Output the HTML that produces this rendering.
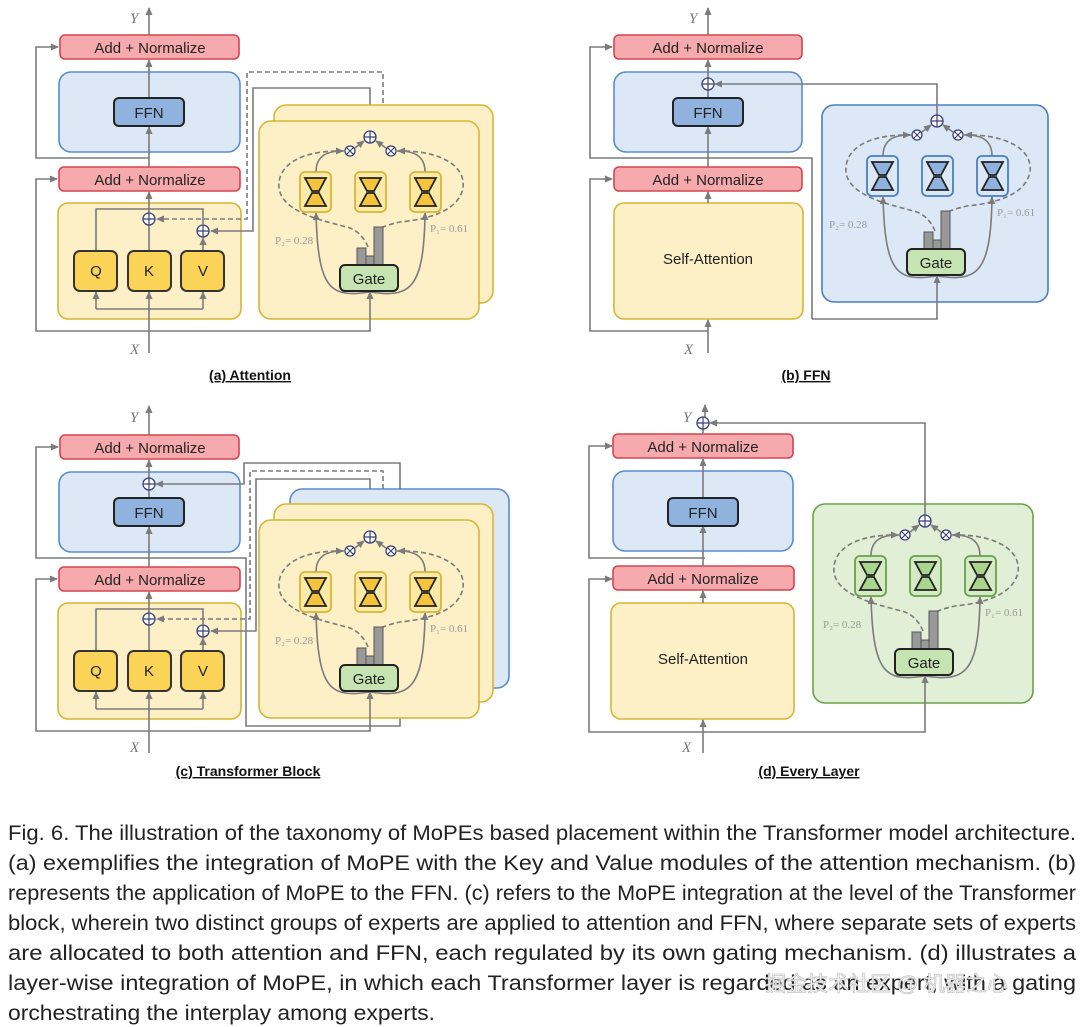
<!DOCTYPE html>
<html><head><meta charset="utf-8"><style>
html,body{margin:0;padding:0;background:#fff}
svg{display:block}
.an{fill:#f6aaad;stroke:#d4454f;stroke-width:1.6}
.bb{fill:#dde8f6;stroke:#5a8ccb;stroke-width:1.6}
.ffn{fill:#8fb2de;stroke:#222;stroke-width:2}
.yb{fill:#fdf0c6;stroke:#d6b637;stroke-width:1.6}
.qkv{fill:#fbd457;stroke:#333;stroke-width:2}
.ln{fill:none;stroke:#7b7b7b;stroke-width:1.6}
.ds{fill:none;stroke:#7b7b7b;stroke-width:1.6;stroke-dasharray:5 3}
.op{fill:#fff;stroke:#3a3f7a;stroke-width:1.3}
.gate{fill:#c6e4b1;stroke:#222;stroke-width:2}
.bar{fill:#999;stroke:#555;stroke-width:1}
.pl{font-family:"Liberation Serif",serif;font-size:11px;fill:#999}
.lab{font-family:"Liberation Sans",sans-serif;font-size:15px;fill:#222}
.xy{font-family:"Liberation Serif",serif;font-style:italic;font-size:15px;fill:#777}
.cap{font-family:"Liberation Sans",sans-serif;font-weight:bold;font-size:14px;fill:#111;text-decoration:underline}
.ya .eb{fill:#fde9a8;stroke:#d6b637}.ya .hg{fill:#f4c53c}
.bl .eb{fill:#dde8f6;stroke:#4a7fc0}.bl .hg{fill:#8fb2de}
.gr .eb{fill:#d5ebc6;stroke:#6aa14a}.gr .hg{fill:#a9d58c}
.eb{stroke-width:1.8}.hg{stroke:#222;stroke-width:1.8}
.txt{font-family:"Liberation Sans",sans-serif;font-size:21px;fill:#222}
</style></head><body>
<svg width="1080" height="1027" viewBox="0 0 1080 1027" xmlns="http://www.w3.org/2000/svg">
<defs>
<marker id="ar" markerWidth="8" markerHeight="8" refX="7" refY="4" orient="auto" markerUnits="userSpaceOnUse"><path d="M0,0.5 L8,4 L0,7.5 z" fill="#7b7b7b"/></marker>
</defs>

<!-- ============ PANEL A ============ -->
<g>
<line class="ln" x1="149" y1="35" x2="149" y2="8" marker-end="url(#ar)"/>
<text class="xy" x="130" y="23">Y</text>
<path class="ln" d="M149,158 H36 V47 H58" marker-end="url(#ar)"/>
<path class="ln" d="M149,331 H36 V179 H57" marker-end="url(#ar)"/>
<rect class="an" x="60" y="35" width="179" height="24" rx="5"/>
<text class="lab" x="150" y="53" text-anchor="middle">Add + Normalize</text>
<rect class="bb" x="59" y="72" width="181" height="80" rx="12"/>
<rect class="an" x="59" y="167" width="181" height="24" rx="5"/>
<text class="lab" x="150" y="185" text-anchor="middle">Add + Normalize</text>
<rect class="yb" x="58" y="203" width="183" height="116" rx="10"/>
<line class="ln" x1="149" y1="353" x2="149" y2="292" marker-end="url(#ar)"/>
<line class="ln" x1="149" y1="251" x2="149" y2="192" marker-end="url(#ar)"/>
<line class="ln" x1="149" y1="167" x2="149" y2="127" marker-end="url(#ar)"/>
<line class="ln" x1="149" y1="98" x2="149" y2="60" marker-end="url(#ar)"/>
<rect class="ffn" x="114" y="98" width="70" height="28" rx="5"/>
<text class="lab" x="149" y="118" text-anchor="middle">FFN</text>
<path class="ln" d="M96,251 V209 H203 V224"/>
<path class="ln" d="M96,309 H203"/>
<line class="ln" x1="96" y1="309" x2="96" y2="292" marker-end="url(#ar)"/>
<line class="ln" x1="203" y1="309" x2="203" y2="292" marker-end="url(#ar)"/>
<line class="ln" x1="203" y1="251" x2="203" y2="238" marker-end="url(#ar)"/>
<rect class="qkv" x="74" y="251" width="43" height="40" rx="6"/><text class="lab" x="96" y="276" text-anchor="middle">Q</text>
<rect class="qkv" x="128" y="251" width="43" height="40" rx="6"/><text class="lab" x="149" y="276" text-anchor="middle">K</text>
<rect class="qkv" x="181" y="251" width="43" height="40" rx="6"/><text class="lab" x="203" y="276" text-anchor="middle">V</text>
<path class="ds" d="M383,103 V72 H247 V219 H157" marker-end="url(#ar)"/>
<path class="ln" d="M370,131 V88 H253 V231 H211" marker-end="url(#ar)"/>
<circle class="op" cx="149" cy="219" r="6"/><path d="M143,219h12M149,213v12" stroke="#3a3f7a" stroke-width="1.2"/>
<circle class="op" cx="203" cy="231" r="6"/><path d="M197,231h12M203,225v12" stroke="#3a3f7a" stroke-width="1.2"/>
<rect class="yb" x="274" y="105" width="219" height="198" rx="12"/>
<rect class="yb" x="259" y="121" width="220" height="198" rx="12"/>
<path class="ln" d="M149,331 H370 V292" marker-end="url(#ar)"/>
<text class="cap" x="250" y="380" text-anchor="middle">(a) Attention</text>
</g>

<!-- ============ PANEL C ============ -->
<g>
<line class="ln" x1="149" y1="435" x2="149" y2="406" marker-end="url(#ar)"/>
<text class="xy" x="130" y="422">Y</text>
<path class="ln" d="M149,558 H36 V447 H58" marker-end="url(#ar)"/>
<path class="ln" d="M149,731 H36 V579 H57" marker-end="url(#ar)"/>
<rect class="an" x="60" y="435" width="179" height="24" rx="5"/>
<text class="lab" x="150" y="453" text-anchor="middle">Add + Normalize</text>
<rect class="bb" x="59" y="472" width="181" height="80" rx="12"/>
<rect class="an" x="59" y="567" width="181" height="24" rx="5"/>
<text class="lab" x="150" y="585" text-anchor="middle">Add + Normalize</text>
<rect class="yb" x="58" y="603" width="183" height="116" rx="10"/>
<line class="ln" x1="149" y1="753" x2="149" y2="692" marker-end="url(#ar)"/>
<line class="ln" x1="149" y1="651" x2="149" y2="592" marker-end="url(#ar)"/>
<line class="ln" x1="149" y1="567" x2="149" y2="527" marker-end="url(#ar)"/>
<line class="ln" x1="149" y1="498" x2="149" y2="460" marker-end="url(#ar)"/>
<rect class="ffn" x="114" y="498" width="70" height="28" rx="5"/>
<text class="lab" x="149" y="518" text-anchor="middle">FFN</text>
<path class="ln" d="M96,651 V609 H203 V624"/>
<path class="ln" d="M96,709 H203"/>
<line class="ln" x1="96" y1="709" x2="96" y2="692" marker-end="url(#ar)"/>
<line class="ln" x1="203" y1="709" x2="203" y2="692" marker-end="url(#ar)"/>
<line class="ln" x1="203" y1="651" x2="203" y2="638" marker-end="url(#ar)"/>
<rect class="qkv" x="74" y="651" width="43" height="40" rx="6"/><text class="lab" x="96" y="676" text-anchor="middle">Q</text>
<rect class="qkv" x="128" y="651" width="43" height="40" rx="6"/><text class="lab" x="149" y="676" text-anchor="middle">K</text>
<rect class="qkv" x="181" y="651" width="43" height="40" rx="6"/><text class="lab" x="203" y="676" text-anchor="middle">V</text>
<path class="ln" d="M149,558 H246 V726 H400 V463 H244 V484 H156" marker-end="url(#ar)"/>
<path class="ds" d="M383,505 V471 H250 V619 H157" marker-end="url(#ar)"/>
<path class="ln" d="M370,531 V479 H256 V631 H211" marker-end="url(#ar)"/>
<circle class="op" cx="149" cy="484" r="6"/><path d="M143,484h12M149,478v12" stroke="#3a3f7a" stroke-width="1.2"/>
<circle class="op" cx="149" cy="619" r="6"/><path d="M143,619h12M149,613v12" stroke="#3a3f7a" stroke-width="1.2"/>
<circle class="op" cx="203" cy="631" r="6"/><path d="M197,631h12M203,625v12" stroke="#3a3f7a" stroke-width="1.2"/>
<rect class="bb" x="290" y="489" width="219" height="199" rx="12"/>
<rect class="yb" x="274" y="504" width="219" height="198" rx="12"/>
<rect class="yb" x="259" y="520" width="220" height="198" rx="12"/>
<path class="ln" d="M149,731 H370 V692" marker-end="url(#ar)"/>
<text class="cap" x="248" y="776" text-anchor="middle">(c) Transformer Block</text>
</g>

<!-- ============ PANEL B ============ -->
<g>
<line class="ln" x1="708" y1="35" x2="708" y2="8" marker-end="url(#ar)"/>
<text class="xy" x="689" y="23">Y</text>
<path class="ln" d="M812,319 V158 H590 V47 H612" marker-end="url(#ar)"/>
<path class="ln" d="M708,331 H590 V179 H612" marker-end="url(#ar)"/>
<rect class="an" x="614" y="35" width="188" height="24" rx="5"/>
<text class="lab" x="708" y="53" text-anchor="middle">Add + Normalize</text>
<rect class="bb" x="614" y="72" width="188" height="80" rx="12"/>
<rect class="an" x="614" y="167" width="188" height="24" rx="5"/>
<text class="lab" x="708" y="185" text-anchor="middle">Add + Normalize</text>
<rect class="yb" x="614" y="203" width="189" height="116" rx="10"/>
<text class="lab" x="708" y="264" text-anchor="middle">Self-Attention</text>
<line class="ln" x1="708" y1="353" x2="708" y2="320" marker-end="url(#ar)"/>
<line class="ln" x1="708" y1="203" x2="708" y2="192" marker-end="url(#ar)"/>
<line class="ln" x1="708" y1="167" x2="708" y2="127" marker-end="url(#ar)"/>
<line class="ln" x1="708" y1="98" x2="708" y2="60" marker-end="url(#ar)"/>
<rect class="ffn" x="673" y="98" width="70" height="28" rx="5"/>
<text class="lab" x="708" y="118" text-anchor="middle">FFN</text>
<rect class="bb" x="822" y="105" width="226" height="197" rx="12" style="stroke:#4a7fc0"/>
<path class="ln" d="M937,115 V84 H715" marker-end="url(#ar)"/>
<circle class="op" cx="708" cy="84" r="6"/><path d="M702,84h12M708,78v12" stroke="#3a3f7a" stroke-width="1.2"/>
<path class="ln" d="M812,319 H937 V276" marker-end="url(#ar)"/>
<text class="cap" x="806" y="380" text-anchor="middle">(b) FFN</text>
</g>

<!-- ============ PANEL D ============ -->
<g>
<line class="ln" x1="705" y1="417" x2="705" y2="405" marker-end="url(#ar)"/>
<text class="xy" x="683" y="422">Y</text>
<path class="ln" d="M705,558 H589 V446 H612" marker-end="url(#ar)"/>
<path class="ln" d="M705,732 H589 V579 H612" marker-end="url(#ar)"/>
<rect class="an" x="613" y="434" width="180" height="24" rx="5"/>
<text class="lab" x="703" y="452" text-anchor="middle">Add + Normalize</text>
<rect class="bb" x="613" y="471" width="180" height="80" rx="12"/>
<rect class="an" x="613" y="566" width="181" height="24" rx="5"/>
<text class="lab" x="703" y="584" text-anchor="middle">Add + Normalize</text>
<rect class="yb" x="611" y="603" width="183" height="116" rx="10"/>
<text class="lab" x="703" y="664" text-anchor="middle">Self-Attention</text>
<line class="ln" x1="703" y1="753" x2="703" y2="720" marker-end="url(#ar)"/>
<line class="ln" x1="703" y1="603" x2="703" y2="591" marker-end="url(#ar)"/>
<line class="ln" x1="703" y1="566" x2="703" y2="526" marker-end="url(#ar)"/>
<line class="ln" x1="703" y1="498" x2="703" y2="459" marker-end="url(#ar)"/>
<line class="ln" x1="703" y1="434" x2="703" y2="429"/>
<rect class="ffn" x="668" y="498" width="70" height="28" rx="5"/>
<text class="lab" x="703" y="518" text-anchor="middle">FFN</text>
<circle class="op" cx="703" cy="423" r="6"/><path d="M697,423h12M703,417v12" stroke="#3a3f7a" stroke-width="1.2"/>
<rect x="813" y="504" width="220" height="199" rx="12" fill="#e0efd5" stroke="#6aa14a" stroke-width="1.6"/>
<path class="ln" d="M925,515 V423 H710" marker-end="url(#ar)"/>
<path class="ln" d="M703,732 H925 V676" marker-end="url(#ar)"/>
<text class="cap" x="809" y="776" text-anchor="middle">(d) Every Layer</text>
</g>

<!-- ============ EXPERT BLOCK A ============ -->
<g class="ya" transform="translate(0,0)">
<path class="ds" d="M344,151 C296,150 277,168 279,188 C282,214 330,222 350,228 C360,232 365,240 368,247" />
<path class="ds" d="M397,151 C444,150 466,168 463,188 C458,214 420,220 400,222 C390,224 384,227 379,228" />
<path class="ln" d="M370,292 C330,298 318,290 316,213" marker-end="url(#ar)"/>
<path class="ln" d="M370,292 C410,298 424,290 425,213" marker-end="url(#ar)"/>
<path class="ln" d="M316,172 C316,155 328,151 343,151" marker-end="url(#ar)"/>
<path class="ln" d="M425,172 C425,155 413,151 398,151" marker-end="url(#ar)"/>
<line class="ln" x1="355" y1="148" x2="364" y2="141" marker-end="url(#ar)"/>
<line class="ln" x1="386" y1="148" x2="376" y2="141" marker-end="url(#ar)"/>
<rect class="eb" x="300" y="172" width="31" height="40" rx="5"/>
<rect class="eb" x="355" y="172" width="31" height="40" rx="5"/>
<rect class="eb" x="410" y="172" width="31" height="40" rx="5"/>
<path class="hg" d="M305,178h21l-7,13h-7zM312,193h7l7,13h-21z"/>
<path class="hg" d="M360,178h21l-7,13h-7zM367,193h7l7,13h-21z"/>
<path class="hg" d="M415,178h21l-7,13h-7zM422,193h7l7,13h-21z"/>
<rect class="bar" x="357" y="248" width="9" height="17"/>
<rect class="bar" x="366" y="256" width="8" height="9"/>
<rect class="bar" x="374" y="227" width="9" height="38"/>
<rect class="gate" x="340" y="265" width="58" height="26" rx="5"/>
<text class="lab" x="369" y="284" text-anchor="middle">Gate</text>
<circle class="op" cx="370" cy="137" r="6"/><path d="M364,137h12M370,131v12" stroke="#3a3f7a" stroke-width="1.2"/>
<circle class="op" cx="350" cy="151" r="5"/><path d="M346.5,147.5l7,7M353.5,147.5l-7,7" stroke="#3a3f7a" stroke-width="1.1"/>
<circle class="op" cx="391" cy="151" r="5"/><path d="M387.5,147.5l7,7M394.5,147.5l-7,7" stroke="#3a3f7a" stroke-width="1.1"/>
<text class="pl" x="275" y="244">P₂= 0.28</text>
<text class="pl" x="430" y="232">P₁= 0.61</text>
</g>

<!-- ============ EXPERT BLOCK C ============ -->
<g class="ya" transform="translate(0,400)">
<path class="ds" d="M344,151 C296,150 277,168 279,188 C282,214 330,222 350,228 C360,232 365,240 368,247" />
<path class="ds" d="M397,151 C444,150 466,168 463,188 C458,214 420,220 400,222 C390,224 384,227 379,228" />
<path class="ln" d="M370,292 C330,298 318,290 316,213" marker-end="url(#ar)"/>
<path class="ln" d="M370,292 C410,298 424,290 425,213" marker-end="url(#ar)"/>
<path class="ln" d="M316,172 C316,155 328,151 343,151" marker-end="url(#ar)"/>
<path class="ln" d="M425,172 C425,155 413,151 398,151" marker-end="url(#ar)"/>
<line class="ln" x1="355" y1="148" x2="364" y2="141" marker-end="url(#ar)"/>
<line class="ln" x1="386" y1="148" x2="376" y2="141" marker-end="url(#ar)"/>
<rect class="eb" x="300" y="172" width="31" height="40" rx="5"/>
<rect class="eb" x="355" y="172" width="31" height="40" rx="5"/>
<rect class="eb" x="410" y="172" width="31" height="40" rx="5"/>
<path class="hg" d="M305,178h21l-7,13h-7zM312,193h7l7,13h-21z"/>
<path class="hg" d="M360,178h21l-7,13h-7zM367,193h7l7,13h-21z"/>
<path class="hg" d="M415,178h21l-7,13h-7zM422,193h7l7,13h-21z"/>
<rect class="bar" x="357" y="248" width="9" height="17"/>
<rect class="bar" x="366" y="256" width="8" height="9"/>
<rect class="bar" x="374" y="227" width="9" height="38"/>
<rect class="gate" x="340" y="265" width="58" height="26" rx="5"/>
<text class="lab" x="369" y="284" text-anchor="middle">Gate</text>
<circle class="op" cx="370" cy="137" r="6"/><path d="M364,137h12M370,131v12" stroke="#3a3f7a" stroke-width="1.2"/>
<circle class="op" cx="350" cy="151" r="5"/><path d="M346.5,147.5l7,7M353.5,147.5l-7,7" stroke="#3a3f7a" stroke-width="1.1"/>
<circle class="op" cx="391" cy="151" r="5"/><path d="M387.5,147.5l7,7M394.5,147.5l-7,7" stroke="#3a3f7a" stroke-width="1.1"/>
<text class="pl" x="275" y="244">P₂= 0.28</text>
<text class="pl" x="430" y="232">P₁= 0.61</text>
</g>

<!-- ============ EXPERT BLOCK B ============ -->
<g class="bl" transform="translate(567,-16)">
<path class="ds" d="M344,151 C296,150 277,168 279,188 C282,214 330,222 350,228 C360,232 365,240 368,247" />
<path class="ds" d="M397,151 C444,150 466,168 463,188 C458,214 420,220 400,222 C390,224 384,227 379,228" />
<path class="ln" d="M370,292 C330,298 318,290 316,213" marker-end="url(#ar)"/>
<path class="ln" d="M370,292 C410,298 424,290 425,213" marker-end="url(#ar)"/>
<path class="ln" d="M316,172 C316,155 328,151 343,151" marker-end="url(#ar)"/>
<path class="ln" d="M425,172 C425,155 413,151 398,151" marker-end="url(#ar)"/>
<line class="ln" x1="355" y1="148" x2="364" y2="141" marker-end="url(#ar)"/>
<line class="ln" x1="386" y1="148" x2="376" y2="141" marker-end="url(#ar)"/>
<rect class="eb" x="300" y="172" width="31" height="40" rx="5"/>
<rect class="eb" x="355" y="172" width="31" height="40" rx="5"/>
<rect class="eb" x="410" y="172" width="31" height="40" rx="5"/>
<path class="hg" d="M305,178h21l-7,13h-7zM312,193h7l7,13h-21z"/>
<path class="hg" d="M360,178h21l-7,13h-7zM367,193h7l7,13h-21z"/>
<path class="hg" d="M415,178h21l-7,13h-7zM422,193h7l7,13h-21z"/>
<rect class="bar" x="357" y="248" width="9" height="17"/>
<rect class="bar" x="366" y="256" width="8" height="9"/>
<rect class="bar" x="374" y="227" width="9" height="38"/>
<rect class="gate" x="340" y="265" width="58" height="26" rx="5"/>
<text class="lab" x="369" y="284" text-anchor="middle">Gate</text>
<circle class="op" cx="370" cy="137" r="6"/><path d="M364,137h12M370,131v12" stroke="#3a3f7a" stroke-width="1.2"/>
<circle class="op" cx="350" cy="151" r="5"/><path d="M346.5,147.5l7,7M353.5,147.5l-7,7" stroke="#3a3f7a" stroke-width="1.1"/>
<circle class="op" cx="391" cy="151" r="5"/><path d="M387.5,147.5l7,7M394.5,147.5l-7,7" stroke="#3a3f7a" stroke-width="1.1"/>
<text class="pl" x="262" y="244">P₂= 0.28</text>
<text class="pl" x="430" y="232">P₁= 0.61</text>
</g>

<!-- ============ EXPERT BLOCK D ============ -->
<g class="gr" transform="translate(555,384)">
<path class="ds" d="M344,151 C296,150 277,168 279,188 C282,214 330,222 350,228 C360,232 365,240 368,247" />
<path class="ds" d="M397,151 C444,150 466,168 463,188 C458,214 420,220 400,222 C390,224 384,227 379,228" />
<path class="ln" d="M370,292 C330,298 318,290 316,213" marker-end="url(#ar)"/>
<path class="ln" d="M370,292 C410,298 424,290 425,213" marker-end="url(#ar)"/>
<path class="ln" d="M316,172 C316,155 328,151 343,151" marker-end="url(#ar)"/>
<path class="ln" d="M425,172 C425,155 413,151 398,151" marker-end="url(#ar)"/>
<line class="ln" x1="355" y1="148" x2="364" y2="141" marker-end="url(#ar)"/>
<line class="ln" x1="386" y1="148" x2="376" y2="141" marker-end="url(#ar)"/>
<rect class="eb" x="300" y="172" width="31" height="40" rx="5"/>
<rect class="eb" x="355" y="172" width="31" height="40" rx="5"/>
<rect class="eb" x="410" y="172" width="31" height="40" rx="5"/>
<path class="hg" d="M305,178h21l-7,13h-7zM312,193h7l7,13h-21z"/>
<path class="hg" d="M360,178h21l-7,13h-7zM367,193h7l7,13h-21z"/>
<path class="hg" d="M415,178h21l-7,13h-7zM422,193h7l7,13h-21z"/>
<rect class="bar" x="357" y="248" width="9" height="17"/>
<rect class="bar" x="366" y="256" width="8" height="9"/>
<rect class="bar" x="374" y="227" width="9" height="38"/>
<rect class="gate" x="340" y="265" width="58" height="26" rx="5"/>
<text class="lab" x="369" y="284" text-anchor="middle">Gate</text>
<circle class="op" cx="370" cy="137" r="6"/><path d="M364,137h12M370,131v12" stroke="#3a3f7a" stroke-width="1.2"/>
<circle class="op" cx="350" cy="151" r="5"/><path d="M346.5,147.5l7,7M353.5,147.5l-7,7" stroke="#3a3f7a" stroke-width="1.1"/>
<circle class="op" cx="391" cy="151" r="5"/><path d="M387.5,147.5l7,7M394.5,147.5l-7,7" stroke="#3a3f7a" stroke-width="1.1"/>
<text class="pl" x="268" y="244">P₂= 0.28</text>
<text class="pl" x="430" y="232">P₁= 0.61</text>
</g>

<!-- X labels -->
<text class="xy" x="130" y="354">X</text>
<text class="xy" x="684" y="354">X</text>
<text class="xy" x="130" y="752">X</text>
<text class="xy" x="682" y="752">X</text>

<!-- caption -->
<text class="txt" x="8" y="840" textLength="1068" lengthAdjust="spacingAndGlyphs">Fig. 6.  The illustration of the taxonomy of MoPEs based placement within the Transformer model architecture.</text>
<text class="txt" x="8" y="870" textLength="1068" lengthAdjust="spacingAndGlyphs">(a) exemplifies the integration of MoPE with the Key and Value modules of the attention mechanism. (b)</text>
<text class="txt" x="8" y="900" textLength="1068" lengthAdjust="spacingAndGlyphs">represents the application of MoPE to the FFN. (c) refers to the MoPE integration at the level of the Transformer</text>
<text class="txt" x="8" y="930" textLength="1068" lengthAdjust="spacingAndGlyphs">block, wherein two distinct groups of experts are applied to attention and FFN, where separate sets of experts</text>
<text class="txt" x="8" y="960" textLength="1068" lengthAdjust="spacingAndGlyphs">are allocated to both attention and FFN, each regulated by its own gating mechanism. (d) illustrates a</text>
<text class="txt" x="8" y="990" textLength="1068" lengthAdjust="spacingAndGlyphs">layer-wise integration of MoPE, in which each Transformer layer is regarded as an expert, with a gating</text>
<text class="txt" x="8" y="1020" textLength="427" lengthAdjust="spacingAndGlyphs">orchestrating the interplay among experts.</text>
<text x="765" y="991" style="font-family:'Liberation Sans','Noto Sans CJK SC',sans-serif;font-size:21px;fill:#f2f2f2;stroke:#bbb;stroke-width:0.6">掘金技术社区 @ 机器之心</text>
</svg>
</body></html>
